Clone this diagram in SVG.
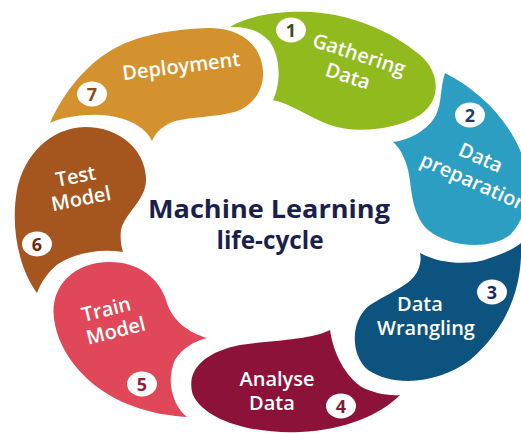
<svg xmlns="http://www.w3.org/2000/svg" width="521" height="433" viewBox="0 0 521 433">
<style>
.lbl{font-family:"Open Sans","Liberation Sans",sans-serif;font-weight:600;font-size:20px;fill:#fff;text-anchor:middle}
.num{font-family:"Open Sans","Liberation Sans",sans-serif;font-weight:700;font-size:18px;text-anchor:middle}
.badge{fill:#fff}
.title{font-family:"Open Sans","Liberation Sans",sans-serif;font-weight:700;font-size:25px;fill:#1B1F4D;text-anchor:middle}
</style>
<rect width="521" height="433" fill="#fff"/>
<g id="step7-deployment">
<path fill="#D4922F" d="M50,123 C60,100 80,70 107,53 C130,38 160,30 207,28 C235,27 255,40 261,60 C267,80 260,100 240,110 C220,118 185,116 170,123 C160,128 155,134 152,141 C145,126 125,116 100,115 C80,114 60,118 50,123 Z"/>
<g transform="translate(182,73) rotate(-7)"><text class="lbl" x="0" y="0">Deployment</text></g>
<ellipse class="badge" cx="92" cy="94" rx="15" ry="12.5"/>
<text class="num" x="92" y="100.5" fill="#8B4A1A">7</text>
</g>
<g id="step1-gathering-data">
<path fill="#91BA1E" d="M230,27 C250,15 280,11 310,12 C350,14 390,30 420,55 C440,72 442,100 420,115 C395,130 355,134 330,125 C310,118 290,103 273,100 C280,85 282,60 270,42 C262,32 248,26 230,27 Z"/>
<g transform="translate(357,61) rotate(18)"><text class="lbl" x="0" y="0">Gathering</text><text class="lbl" x="-4" y="24">Data</text></g>
<ellipse class="badge" cx="291" cy="30" rx="15" ry="12.5"/>
<text class="num" x="291" y="36.5" fill="#3D4B17">1</text>
</g>
<g id="step2-data-preparation">
<path fill="#2C9EC2" d="M445,73 C475,88 505,115 520,150 C532,180 530,215 510,235 C490,250 450,248 428,230 C410,213 412,185 408,170 C405,158 400,148 393,142 C410,140 428,130 436,115 C442,103 440,88 445,73 Z"/>
<g transform="translate(478,164) rotate(24)"><text class="lbl" x="0" y="0">Data</text><text class="lbl" x="4" y="25">preparation</text></g>
<ellipse class="badge" cx="470" cy="115" rx="15" ry="12.5"/>
<text class="num" x="470" y="121.5" fill="#1D3D6E">2</text>
</g>
<g id="step3-data-wrangling">
<path fill="#0D5380" d="M521,243 C523,290 505,330 470,360 C440,383 395,388 368,370 C350,355 350,320 370,305 C390,292 412,285 418,270 C421,263 421,258 420,253 C440,264 470,266 490,258 C505,253 515,248 521,243 Z"/>
<text class="lbl" x="420" y="311">Data</text>
<text class="lbl" x="426" y="335">Wrangling</text>
<ellipse class="badge" cx="492" cy="292" rx="15" ry="12.5"/>
<text class="num" x="492" y="298.5" fill="#1C2B5C">3</text>
</g>
<g id="step4-analyse-data">
<path fill="#8C1239" d="M400,395 C380,415 345,430 300,432 C250,434 205,420 193,395 C185,370 205,352 240,345 C275,340 310,340 330,330 C333,350 342,372 360,386 C372,393 388,396 400,395 Z"/>
<text class="lbl" x="277" y="386">Analyse</text>
<text class="lbl" x="272" y="410">Data</text>
<ellipse class="badge" cx="341" cy="406" rx="15" ry="12.5"/>
<text class="num" x="341" y="412.5" fill="#7D1F36">4</text>
</g>
<g id="step5-train-model">
<path fill="#E04758" d="M187,417 C172,405 166,380 175,360 C182,348 195,341 207,338 C190,333 172,322 166,300 C160,280 140,262 110,262 C75,262 50,285 54,318 C58,355 90,390 130,405 C150,413 170,416 187,417 Z"/>
<g transform="translate(108,316) rotate(-14)"><text class="lbl" x="0" y="0">Train</text><text class="lbl" x="4" y="23">Model</text></g>
<ellipse class="badge" cx="142" cy="384" rx="15" ry="12.5"/>
<text class="num" x="142" y="390.5" fill="#8E1F40">5</text>
</g>
<g id="step6-test-model">
<path fill="#A4561E" d="M37,293 C20,270 10,230 17,190 C24,155 50,128 85,127 C120,127 145,150 146,178 C147,200 125,212 121,230 C120,238 121,245 123,252 C100,248 75,253 58,264 C48,272 41,282 37,293 Z"/>
<g transform="translate(77,183) rotate(-11)"><text class="lbl" x="0" y="0">Test</text><text class="lbl" x="1" y="23">Model</text></g>
<ellipse class="badge" cx="37" cy="244" rx="15" ry="12.5"/>
<text class="num" x="37" y="250.5" fill="#6B2A12">6</text>
</g>
<g id="title">
<text class="title" x="269" y="218" textLength="242" lengthAdjust="spacingAndGlyphs">Machine Learning</text>
<text class="title" x="270" y="249" textLength="107" lengthAdjust="spacingAndGlyphs">life-cycle</text>
</g>
</svg>
